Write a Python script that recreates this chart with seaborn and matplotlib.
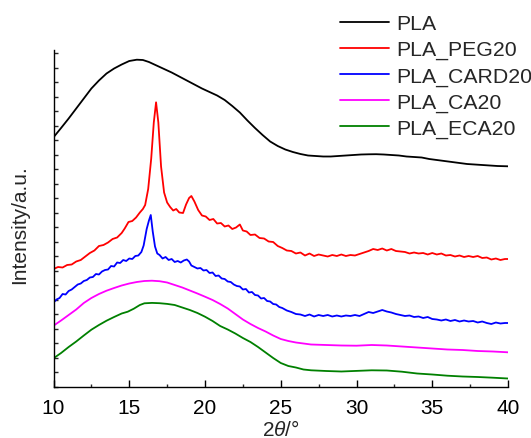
import matplotlib
matplotlib.use("Agg")
import matplotlib.pyplot as plt
from matplotlib.ticker import MultipleLocator
import numpy as np
import pandas as pd
import seaborn as sns

# XRD patterns (stacked, arbitrary intensity units)
pla_x = [10.0, 10.5, 11.0, 11.5, 12.0, 12.5, 13.0, 13.5, 14.0, 14.5, 15.0, 15.5, 15.9, 16.3, 16.8,
         17.3, 17.8, 18.3, 18.8, 19.3, 19.8, 20.3, 20.8, 21.3, 21.8, 22.3, 22.8, 23.3, 23.8, 24.3,
         24.8, 25.3, 25.8, 26.3, 26.8, 27.3, 27.8, 28.3, 28.8, 29.3, 29.8, 30.3, 30.8, 31.3, 31.8,
         32.3, 32.8, 33.3, 33.8, 34.3, 34.8, 35.3, 35.8, 36.3, 36.8, 37.3, 37.8, 38.3, 38.8, 39.3, 40.0]
pla_y = [249.2, 258.5, 268.0, 278.0, 288.0, 298.0, 306.0, 313.0, 318.0, 322.0, 325.5, 326.8, 326.5, 324.5, 321.0,
         317.5, 314.0, 310.0, 306.0, 302.0, 298.0, 294.5, 291.0, 286.5, 280.5, 274.0, 266.0, 258.5, 251.5, 245.0,
         240.5, 237.0, 234.5, 232.5, 231.0, 230.5, 230.0, 230.0, 230.5, 231.0, 231.5, 232.0, 232.2, 232.3, 232.0,
         231.5, 231.0, 230.0, 229.5, 229.0, 227.5, 226.5, 225.5, 224.5, 223.5, 222.5, 222.0, 221.5, 221.0, 220.5, 220.2]

peg_x = [10.0, 10.3, 10.6, 10.9, 11.2, 11.5, 11.8, 12.1, 12.4, 12.7, 13.0, 13.3, 13.6, 13.9, 14.2, 14.5, 14.7,
         14.95, 15.2, 15.45, 15.7, 15.9, 16.05, 16.25, 16.45, 16.62, 16.77, 16.92, 17.1, 17.3, 17.5, 17.7,
         17.9, 18.1, 18.3, 18.55, 18.75, 18.95, 19.1, 19.3, 19.55, 19.8, 20.05, 20.3, 20.55, 20.8, 21.05,
         21.3, 21.55, 21.8, 22.05, 22.3, 22.5, 22.75, 23.0, 23.3, 23.6, 23.9, 24.2, 24.5, 24.8, 25.1, 25.4,
         25.7, 26.0, 26.3, 26.6, 26.9, 27.2, 27.5, 27.8, 28.1, 28.4, 28.7, 29.0, 29.3, 29.6, 29.9, 30.2,
         30.5, 30.8, 31.1, 31.4, 31.7, 32.0, 32.3, 32.6, 32.9, 33.2, 33.5, 33.8, 34.1, 34.4, 34.7, 35.0,
         35.3, 35.6, 35.9, 36.2, 36.5, 36.8, 37.1, 37.4, 37.7, 38.0, 38.3, 38.6, 38.9, 39.2, 39.5, 39.8, 40.0]
peg_y = [117.5, 119.5, 119.0, 121.5, 122.0, 125.0, 126.5, 130.0, 133.5, 136.0, 140.5, 141.5, 144.0, 147.5, 149.0, 153.5, 158.0,
         164.5, 165.5, 169.0, 174.0, 177.5, 181.5, 197.5, 228.0, 264.0, 284.2, 264.0, 220.0, 194.0, 184.0, 179.5,
         176.0, 177.5, 174.0, 173.5, 182.0, 188.5, 190.5, 185.0, 176.5, 171.0, 170.0, 166.5, 167.5, 163.0, 163.5,
         160.0, 161.0, 157.5, 159.0, 162.0, 156.0, 155.0, 151.5, 152.0, 148.5, 148.0, 145.0, 144.5, 140.5, 138.5, 136.0,
         135.5, 133.0, 134.0, 131.0, 133.0, 130.5, 132.0, 131.0, 130.0, 131.5, 130.5, 132.0, 130.5, 131.5, 131.0, 132.5,
         134.0, 135.5, 137.5, 136.5, 138.0, 136.0, 137.5, 135.5, 135.0, 134.5, 133.0, 134.0, 133.0, 133.5, 132.0, 133.5,
         132.0, 133.0, 131.0, 131.5, 130.0, 131.0, 129.5, 130.5, 129.5, 130.5, 128.5, 129.0, 127.0, 128.0, 126.5, 127.5, 127.5]

card_x = [10.0, 10.2, 10.4, 10.6, 10.8, 11.0, 11.2, 11.4, 11.6, 11.8, 12.0, 12.2, 12.4, 12.6, 12.8, 13.0, 13.2,
          13.4, 13.6, 13.8, 14.0, 14.2, 14.4, 14.6, 14.8, 15.0, 15.2, 15.4, 15.6, 15.8, 15.95, 16.15, 16.3,
          16.42, 16.55, 16.7, 16.85, 17.0, 17.2, 17.4, 17.6, 17.8, 18.0, 18.2, 18.4, 18.6, 18.8, 18.95, 19.1,
          19.3, 19.5, 19.7, 19.9, 20.1, 20.3, 20.5, 20.7, 20.9, 21.1, 21.3, 21.5, 21.7, 21.9, 22.1, 22.3,
          22.5, 22.7, 22.9, 23.1, 23.3, 23.5, 23.7, 23.9, 24.1, 24.3, 24.5, 24.7, 24.9, 25.1, 25.4, 25.7,
          26.0, 26.3, 26.6, 26.9, 27.2, 27.5, 27.8, 28.1, 28.4, 28.7, 29.0, 29.3, 29.6, 29.9, 30.2, 30.5,
          30.8, 31.1, 31.4, 31.7, 32.0, 32.3, 32.6, 32.9, 33.2, 33.5, 33.8, 34.1, 34.4, 34.7, 35.0, 35.3,
          35.6, 35.9, 36.2, 36.5, 36.8, 37.1, 37.4, 37.7, 38.0, 38.3, 38.6, 38.9, 39.2, 39.5, 39.8, 40.0]
card_y = [84.0, 87.0, 88.5, 92.5, 92.0, 95.5, 97.0, 99.5, 102.0, 103.0, 105.5, 106.5, 109.0, 109.5, 112.5, 112.0, 115.0,
          116.5, 117.0, 120.5, 120.0, 124.0, 123.5, 126.5, 125.5, 128.0, 127.5, 130.5, 131.0, 134.5, 141.0, 157.5, 166.0,
          171.5, 155.0, 140.0, 133.0, 131.5, 128.0, 129.5, 126.5, 127.5, 124.5, 125.5, 124.0, 126.0, 127.0, 125.0, 121.0,
          119.5, 118.0, 118.5, 116.0, 116.5, 113.5, 114.0, 110.5, 111.0, 108.0, 107.5, 105.0, 104.5, 102.0, 100.5, 100.0,
          97.0, 97.5, 94.0, 94.5, 91.5, 91.0, 88.0, 88.5, 85.5, 85.0, 82.5, 82.0, 79.5, 78.5, 76.0, 74.5,
          72.5, 72.0, 70.5, 72.0, 70.0, 71.5, 70.5, 71.5, 70.0, 71.0, 70.0, 71.0, 70.5, 71.5, 70.5, 72.5,
          74.5, 73.5, 75.0, 76.5, 75.0, 74.0, 72.5, 71.5, 70.5, 71.0, 69.5, 70.0, 68.5, 69.5, 67.5, 67.0,
          66.0, 67.0, 65.5, 66.5, 65.0, 66.0, 65.0, 65.5, 64.0, 65.0, 63.5, 62.5, 64.0, 63.0, 63.5, 63.5]

ca_x = [10.0, 10.5, 11.0, 11.5, 12.0, 12.5, 13.0, 13.5, 14.0, 14.5, 15.0, 15.5, 16.0, 16.5, 17.0, 17.5,
        18.0, 18.5, 19.0, 19.5, 20.0, 20.5, 21.0, 21.5, 22.0, 22.5, 23.0, 23.5, 24.0, 24.5, 25.0, 25.5,
        26.0, 26.5, 27.0, 28.0, 29.0, 30.0, 31.0, 32.0, 33.0, 34.0, 35.0, 36.0, 37.0, 38.0, 39.0, 40.0]
ca_y = [60.8, 66.0, 71.5, 77.0, 83.5, 88.5, 92.5, 95.8, 98.5, 101.0, 103.0, 104.5, 105.5, 105.8, 105.3, 104.0,
        101.5, 99.0, 96.0, 93.0, 89.8, 86.5, 82.5, 78.0, 72.5, 67.0, 62.5, 58.5, 55.0, 51.0, 47.5, 45.5,
        44.0, 43.0, 42.0, 41.5, 41.0, 40.8, 41.5, 41.0, 40.0, 39.0, 38.0, 37.0, 36.5, 35.5, 35.0, 34.2]

eca_x = [10.0, 10.5, 11.0, 11.5, 12.0, 12.5, 13.0, 13.5, 14.0, 14.5, 14.9, 15.3, 15.7, 16.0, 16.5, 17.0,
         17.5, 18.0, 18.5, 19.0, 19.5, 20.0, 20.5, 21.0, 21.5, 22.0, 22.5, 23.0, 23.5, 24.0, 24.5, 25.0,
         25.5, 26.0, 26.5, 27.0, 28.0, 29.0, 30.0, 31.0, 32.0, 33.0, 34.0, 35.0, 36.0, 37.0, 38.0, 39.0, 40.0]
eca_y = [28.2, 33.5, 39.5, 45.0, 51.0, 56.8, 61.5, 65.8, 69.5, 73.0, 74.8, 77.8, 81.5, 83.2, 83.6, 83.3,
         82.6, 81.5, 79.0, 76.5, 73.5, 69.8, 65.5, 60.5, 57.0, 53.0, 48.5, 44.5, 39.5, 34.0, 28.5, 23.5,
         20.5, 19.0, 17.0, 16.2, 15.5, 15.0, 15.6, 16.2, 16.0, 14.8, 13.0, 12.0, 10.8, 10.0, 9.5, 8.8, 8.0]

series_names = ["PLA", "PLA_PEG20", "PLA_CARD20", "PLA_CA20", "PLA_ECA20"]
series_colors = ["#000000", "#ff0000", "#0000ff", "#ff00ff", "#008000"]

sns.set_theme(style="white")
plt.rcParams["font.family"] = ["Liberation Sans", "DejaVu Sans"]
plt.rcParams["mathtext.fontset"] = "custom"
plt.rcParams["mathtext.it"] = "Liberation Sans:italic"
plt.rcParams["mathtext.rm"] = "Liberation Sans"

fig = plt.figure(figsize=(5.31, 4.39), dpi=100)
ax = fig.add_axes([53.5 / 531, 1 - 387.5 / 439, (508 - 53.5) / 531, (387.5 - 51) / 439])

all_x = [pla_x, peg_x, card_x, ca_x, eca_x]
all_y = [pla_y, peg_y, card_y, ca_y, eca_y]
for name, color, xs, ys in zip(series_names, series_colors, all_x, all_y):
    df = pd.DataFrame({"two_theta": xs, "intensity": ys})
    sns.lineplot(data=df, x="two_theta", y="intensity", color=color, label=name,
                 linewidth=1.3, estimator=None, sort=False, ax=ax)

ax.set_xlim(10, 40)
ax.set_ylim(0, 336.5)
ax.xaxis.set_major_locator(MultipleLocator(5))
ax.xaxis.set_minor_locator(MultipleLocator(2.5))
ax.yaxis.set_major_locator(MultipleLocator(14.5))
ax.set_yticklabels([])
ax.tick_params(axis="x", which="major", direction="in", length=5, width=1, colors="black",
               labelsize=15, pad=8, bottom=True)
ax.tick_params(axis="x", which="minor", direction="in", length=2.5, width=1, bottom=True)
ax.tick_params(axis="y", which="major", direction="in", length=3, width=1, left=True)

for side in ["top", "right"]:
    ax.spines[side].set_visible(False)
for side in ["left", "bottom"]:
    ax.spines[side].set_color("black")
    ax.spines[side].set_linewidth(1.0)

ax.set_xlabel("2$\\theta$/°", fontsize=15, labelpad=2)
ax.set_ylabel("Intensity/a.u.", fontsize=15)
ax.yaxis.set_label_coords(-0.053, 0.483)

ax.legend(loc="upper left", bbox_to_anchor=(340 / 531, 1 - 15 / 439), bbox_transform=fig.transFigure,
          frameon=False, fontsize=15.3, handlelength=2.3, handletextpad=0.35, labelspacing=0.33,
          borderaxespad=0, borderpad=0)

fig.savefig("out.png", dpi=100)
